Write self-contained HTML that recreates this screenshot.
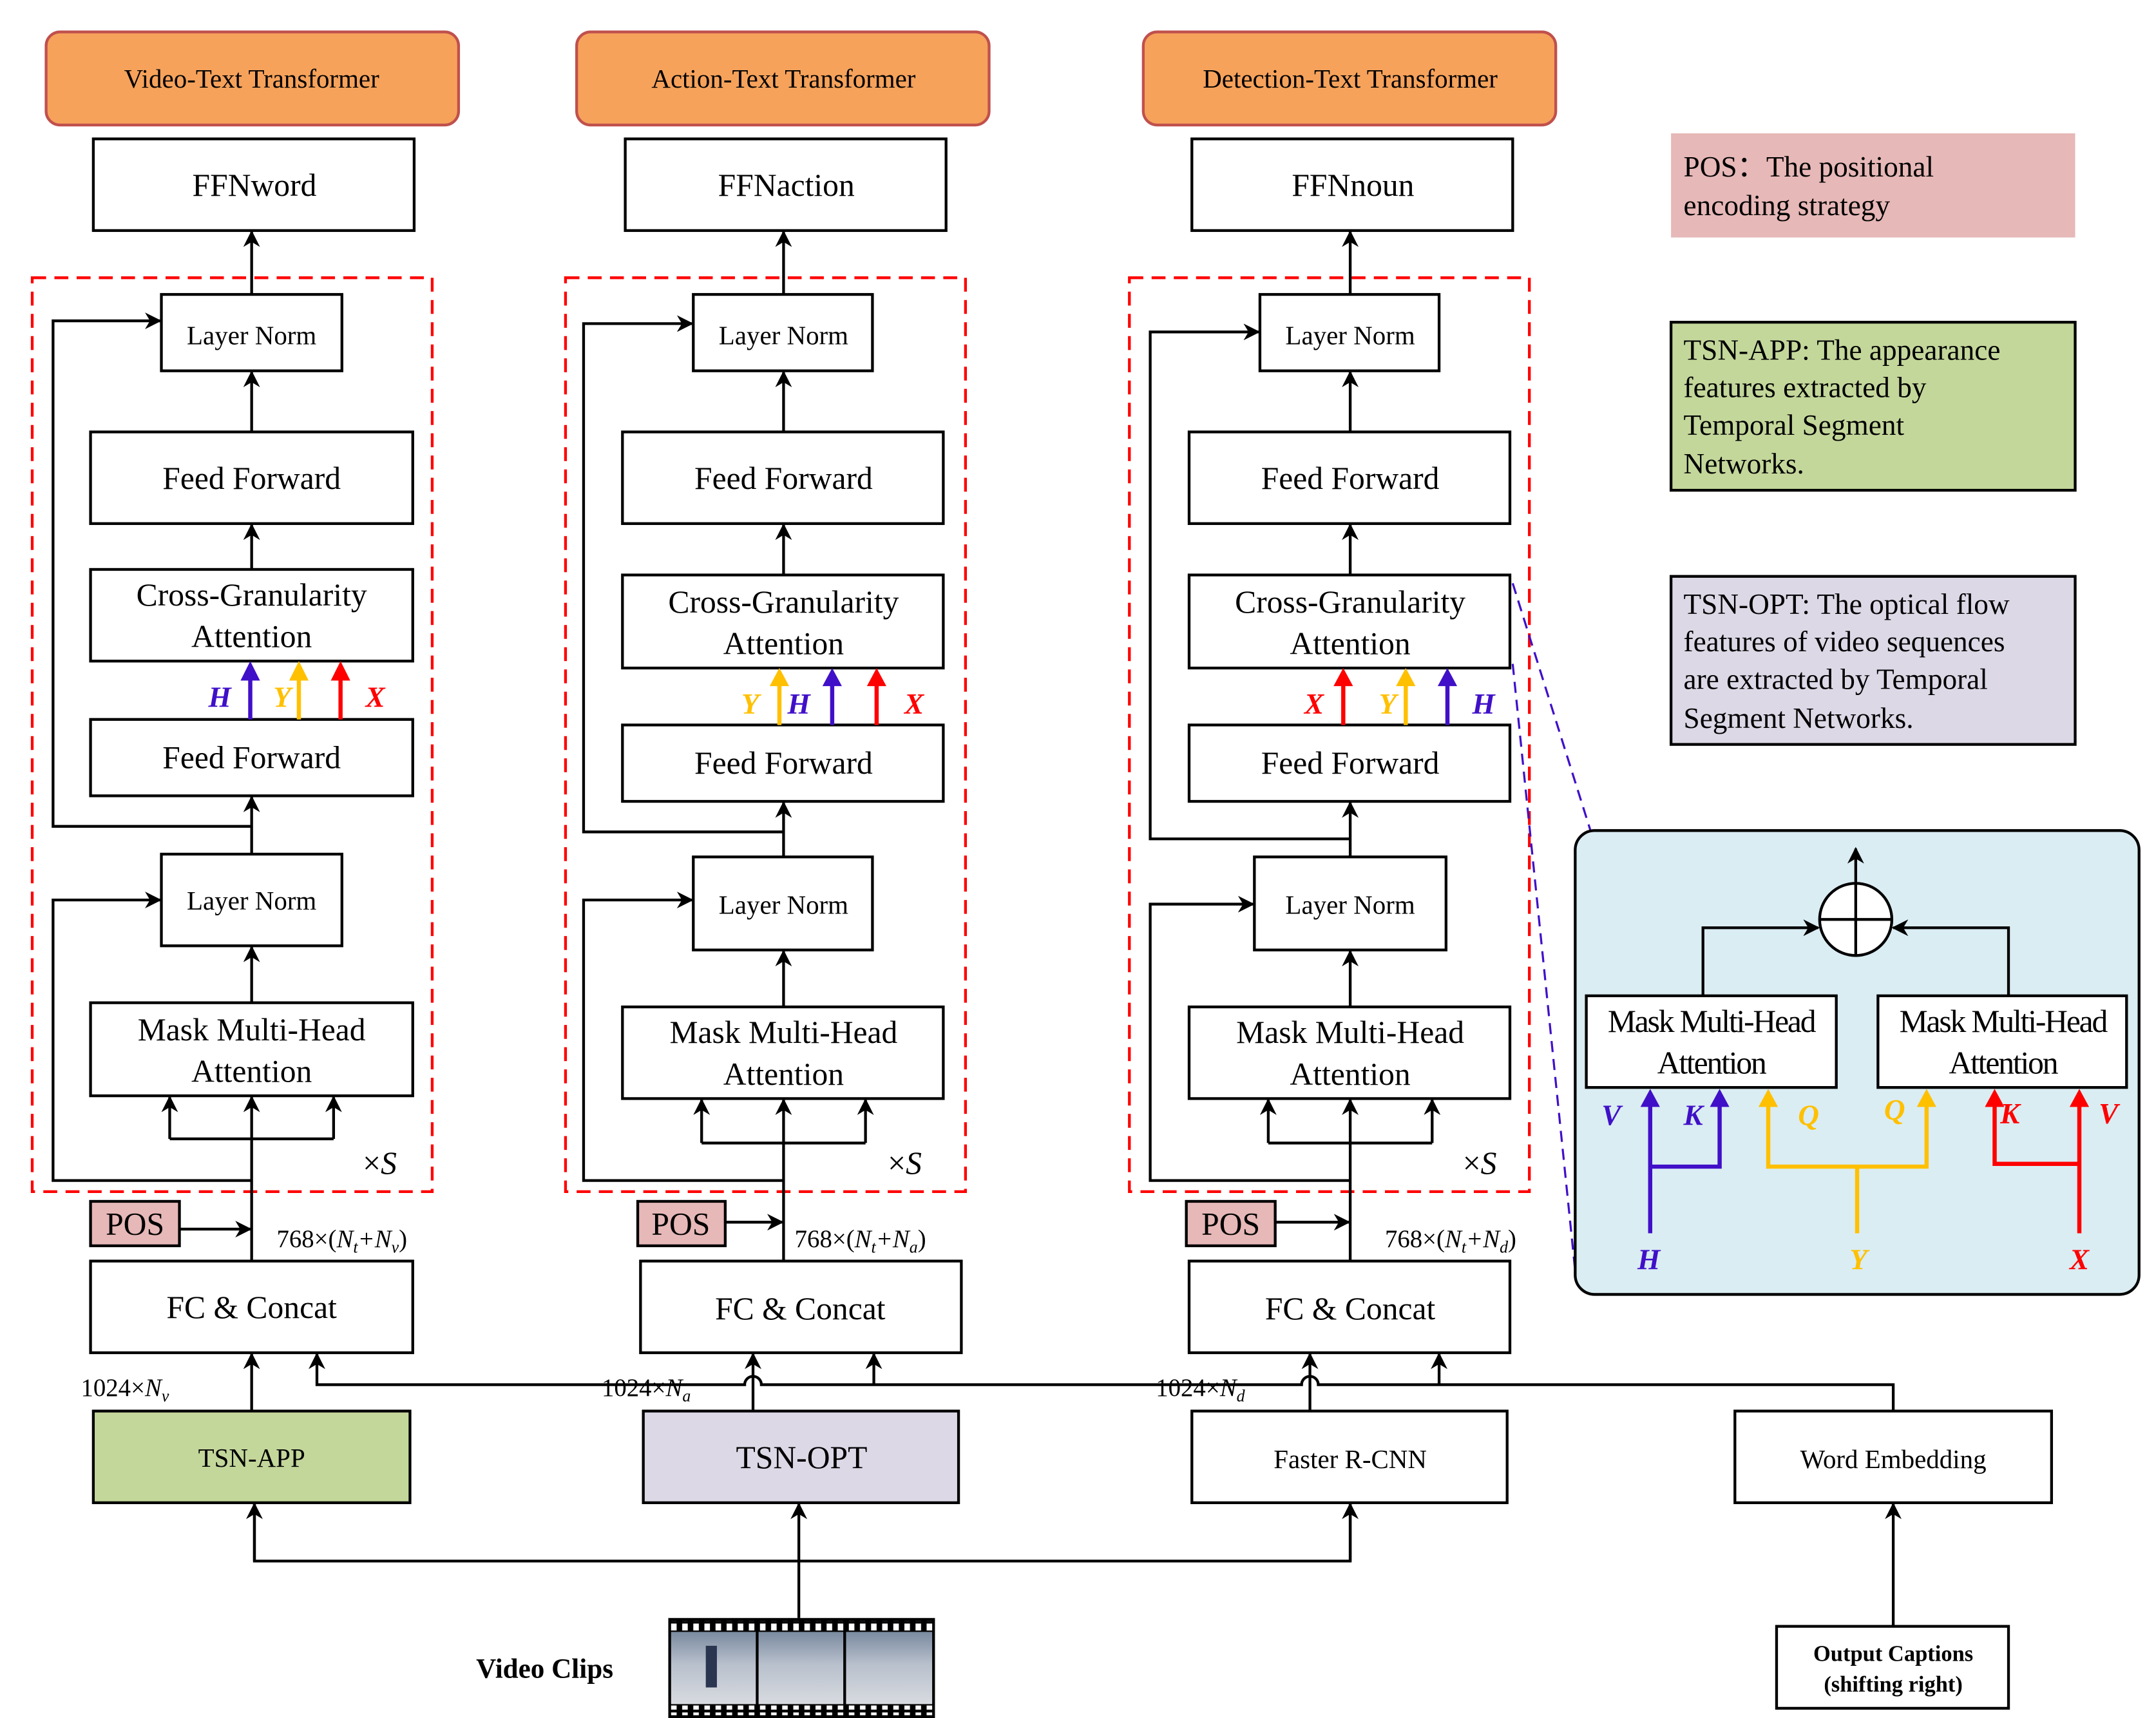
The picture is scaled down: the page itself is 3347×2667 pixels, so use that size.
<!DOCTYPE html>
<html><head><meta charset="utf-8"><style>html,body{margin:0;padding:0;background:#fff}svg{display:block}svg text{font-family:"Liberation Serif","DejaVu Serif",serif}</style></head>
<body>
<svg width="3347" height="2667" viewBox="0 0 1552 1237" xmlns="http://www.w3.org/2000/svg" style="font-family:'Liberation Serif',serif">
<defs>
<marker id="b" viewBox="0 0 10 10" refX="9" refY="5" markerWidth="12" markerHeight="12" orient="auto" markerUnits="userSpaceOnUse"><path d="M0,0 L10,5 L0,10 L3,5z" fill="#000"/></marker>
<pattern id="holes" x="481" y="0" width="8" height="8" patternUnits="userSpaceOnUse"><rect x="2" y="1" width="4" height="6" fill="#fff"/></pattern>
<linearGradient id="snow" x1="0" y1="0" x2="0" y2="1"><stop offset="0" stop-color="#7a8aa0"/><stop offset="0.45" stop-color="#b8c0cc"/><stop offset="1" stop-color="#d8dbe0"/></linearGradient>
</defs>
<g stroke="#000" stroke-width="2" fill="none">
<rect x="33" y="23" width="297" height="67" rx="10" fill="#f6a25b" stroke="#c0504d"/>
<rect x="415" y="23" width="297" height="67" rx="10" fill="#f6a25b" stroke="#c0504d"/>
<rect x="823" y="23" width="297" height="67" rx="10" fill="#f6a25b" stroke="#c0504d"/>
<rect x="67" y="100" width="231" height="66"/>
<rect x="450" y="100" width="231" height="66"/>
<rect x="858" y="100" width="231" height="66"/>
<rect x="23" y="200" width="288" height="658" stroke="#f00" stroke-dasharray="10,6"/>
<rect x="407" y="200" width="288" height="658" stroke="#f00" stroke-dasharray="10,6"/>
<rect x="813" y="200" width="288" height="658" stroke="#f00" stroke-dasharray="10,6"/>

<line x1="181" y1="212" x2="181" y2="167" marker-end="url(#b)"/>
<rect x="116" y="212" width="130" height="55"/>
<line x1="181" y1="311" x2="181" y2="268" marker-end="url(#b)"/>
<rect x="65" y="311" width="232" height="66"/>
<line x1="181" y1="410" x2="181" y2="378" marker-end="url(#b)"/>
<rect x="65" y="410" width="232" height="66"/>
<rect x="65" y="518" width="232" height="55"/>
<line x1="181" y1="615" x2="181" y2="574" marker-end="url(#b)"/>
<polyline points="181,595 38,595 38,231 115,231" marker-end="url(#b)"/>
<rect x="116" y="615" width="130" height="66"/>
<line x1="181" y1="722" x2="181" y2="682" marker-end="url(#b)"/>
<rect x="65" y="722" width="232" height="67"/>
<line x1="181" y1="908" x2="181" y2="790" marker-end="url(#b)"/>
<line x1="122" y1="820" x2="240" y2="820"/>
<line x1="122" y1="820" x2="122" y2="790" marker-end="url(#b)"/>
<line x1="240" y1="820" x2="240" y2="790" marker-end="url(#b)"/>
<polyline points="181,850 38,850 38,648 115,648" marker-end="url(#b)"/>
<rect x="65" y="865" width="64" height="32" fill="#e6b8b7"/>
<line x1="129" y1="885" x2="180" y2="885" marker-end="url(#b)"/>
<rect x="65" y="908" width="232" height="66"/>

<line x1="564" y1="212" x2="564" y2="167" marker-end="url(#b)"/>
<rect x="499" y="212" width="129" height="55"/>
<line x1="564" y1="311" x2="564" y2="268" marker-end="url(#b)"/>
<rect x="448" y="311" width="231" height="66"/>
<line x1="564" y1="414" x2="564" y2="378" marker-end="url(#b)"/>
<rect x="448" y="414" width="231" height="67"/>
<rect x="448" y="522" width="231" height="55"/>
<line x1="564" y1="617" x2="564" y2="578" marker-end="url(#b)"/>
<polyline points="564,599 420,599 420,233 498,233" marker-end="url(#b)"/>
<rect x="499" y="617" width="129" height="67"/>
<line x1="564" y1="725" x2="564" y2="685" marker-end="url(#b)"/>
<rect x="448" y="725" width="231" height="66"/>
<line x1="564" y1="908" x2="564" y2="792" marker-end="url(#b)"/>
<line x1="505" y1="823" x2="623" y2="823"/>
<line x1="505" y1="823" x2="505" y2="792" marker-end="url(#b)"/>
<line x1="623" y1="823" x2="623" y2="792" marker-end="url(#b)"/>
<polyline points="564,850 420,850 420,648 498,648" marker-end="url(#b)"/>
<rect x="459" y="865" width="63" height="32" fill="#e6b8b7"/>
<line x1="522" y1="880" x2="563" y2="880" marker-end="url(#b)"/>
<rect x="461" y="908" width="231" height="66"/>

<line x1="972" y1="212" x2="972" y2="167" marker-end="url(#b)"/>
<rect x="907" y="212" width="129" height="55"/>
<line x1="972" y1="311" x2="972" y2="268" marker-end="url(#b)"/>
<rect x="856" y="311" width="231" height="66"/>
<line x1="972" y1="414" x2="972" y2="378" marker-end="url(#b)"/>
<rect x="856" y="414" width="231" height="67"/>
<rect x="856" y="522" width="231" height="55"/>
<line x1="972" y1="617" x2="972" y2="578" marker-end="url(#b)"/>
<polyline points="972,604 828,604 828,239 906,239" marker-end="url(#b)"/>
<rect x="903" y="617" width="138" height="67"/>
<line x1="972" y1="725" x2="972" y2="685" marker-end="url(#b)"/>
<rect x="856" y="725" width="231" height="66"/>
<line x1="972" y1="908" x2="972" y2="792" marker-end="url(#b)"/>
<line x1="913" y1="823" x2="1031" y2="823"/>
<line x1="913" y1="823" x2="913" y2="792" marker-end="url(#b)"/>
<line x1="1031" y1="823" x2="1031" y2="792" marker-end="url(#b)"/>
<polyline points="972,850 828,850 828,651 902,651" marker-end="url(#b)"/>
<rect x="854" y="865" width="64" height="32" fill="#e6b8b7"/>
<line x1="918" y1="880" x2="971" y2="880" marker-end="url(#b)"/>
<rect x="856" y="908" width="231" height="66"/>

<rect x="67" y="1016" width="228" height="66" fill="#c4d79b"/>
<rect x="463" y="1016" width="227" height="66" fill="#dcd8e6"/>
<rect x="858" y="1016" width="227" height="66"/>
<rect x="1249" y="1016" width="228" height="66"/>
<rect x="1279" y="1171" width="167" height="59"/>
<line x1="181" y1="1016" x2="181" y2="975" marker-end="url(#b)"/>
<line x1="542" y1="1016" x2="542" y2="975" marker-end="url(#b)"/>
<line x1="943" y1="1016" x2="943" y2="975" marker-end="url(#b)"/>
<path d="M1363,1016 L1363,997 L949,997 A6,6 0 0 0 937,997 L548,997 A6,6 0 0 0 536,997 L228,997 L228,975" marker-end="url(#b)"/>
<line x1="629" y1="997" x2="629" y2="975" marker-end="url(#b)"/>
<line x1="1036" y1="997" x2="1036" y2="975" marker-end="url(#b)"/>
<line x1="1363" y1="1171" x2="1363" y2="1083" marker-end="url(#b)"/>
<line x1="575" y1="1165" x2="575" y2="1083" marker-end="url(#b)"/>
<polyline points="183,1083 183,1124 972,1124 972,1083" fill="none"/>
<line x1="183" y1="1124" x2="183" y2="1083" marker-end="url(#b)"/>
<line x1="972" y1="1124" x2="972" y2="1083" marker-end="url(#b)"/>

<rect x="1203" y="96" width="291" height="75" fill="#e6b8b7" stroke="none"/>
<rect x="1203" y="232" width="291" height="121" fill="#c4d79b"/>
<rect x="1203" y="415" width="291" height="121" fill="#dcd8e6"/>

<line x1="1089" y1="420" x2="1145" y2="598" stroke="#4010c8" stroke-width="1.5" stroke-dasharray="8,5"/>
<line x1="1089" y1="478" x2="1134" y2="915" stroke="#4010c8" stroke-width="1.5" stroke-dasharray="8,5"/>

<rect x="1134" y="598" width="406" height="334" rx="14" fill="#daedf3"/>
<line x1="1336" y1="636" x2="1336" y2="611" marker-end="url(#b)"/>
<ellipse cx="1336" cy="662" rx="26" ry="26" fill="#fff"/>
<line x1="1336" y1="636" x2="1336" y2="688"/>
<line x1="1310" y1="662" x2="1362" y2="662"/>
<polyline points="1226,717 1226,668 1309,668" marker-end="url(#b)"/>
<polyline points="1446,717 1446,668 1363,668" marker-end="url(#b)"/>
<rect x="1142" y="717" width="180" height="66" fill="#fff"/>
<rect x="1352" y="717" width="179" height="66" fill="#fff"/>
</g>

<g stroke-width="3" fill="none">
<g stroke="#4010c8"><line x1="180" y1="518" x2="180" y2="488"/><line x1="599" y1="522" x2="599" y2="492"/><line x1="1042" y1="522" x2="1042" y2="492"/>
<path d="M1188,888 V795 M1188,840 H1238 V795"/></g>
<g stroke="#ffc000"><line x1="215" y1="518" x2="215" y2="488"/><line x1="561" y1="522" x2="561" y2="492"/><line x1="1012" y1="522" x2="1012" y2="492"/>
<path d="M1337,888 V840 M1273,795 V840 H1387 V795"/></g>
<g stroke="#f00"><line x1="245" y1="518" x2="245" y2="488"/><line x1="631" y1="522" x2="631" y2="492"/><line x1="967" y1="522" x2="967" y2="492"/>
<path d="M1497,888 V795 M1497,838 H1436 V795"/></g>
</g>
<g>
<g fill="#4010c8"><path d="M173,490 L180,476 L187,490z"/><path d="M592,494 L599,481 L606,494z"/><path d="M1035,494 L1042,481 L1049,494z"/><path d="M1181,797 L1188,784 L1195,797z"/><path d="M1231,797 L1238,784 L1245,797z"/></g>
<g fill="#ffc000"><path d="M208,490 L215,476 L222,490z"/><path d="M554,494 L561,481 L568,494z"/><path d="M1005,494 L1012,481 L1019,494z"/><path d="M1266,797 L1273,784 L1280,797z"/><path d="M1380,797 L1387,784 L1394,797z"/></g>
<g fill="#f00"><path d="M238,490 L245,476 L252,490z"/><path d="M624,494 L631,481 L638,494z"/><path d="M960,494 L967,481 L974,494z"/><path d="M1429,797 L1436,784 L1443,797z"/><path d="M1490,797 L1497,784 L1504,797z"/></g>
</g>

<rect x="481" y="1165" width="192" height="72" fill="#000"/>
<rect x="482" y="1167" width="190" height="7" fill="url(#holes)"/>
<rect x="482" y="1228" width="190" height="7" fill="url(#holes)"/>
<rect x="483" y="1175" width="61" height="52" fill="url(#snow)"/>
<rect x="546" y="1175" width="61" height="52" fill="url(#snow)"/>
<rect x="609" y="1175" width="62" height="52" fill="url(#snow)"/>
<rect x="508" y="1185" width="8" height="30" fill="#2a3550"/>

<g font-size="19" text-anchor="middle" fill="#000">
<text x="181" y="63">Video-Text Transformer</text>
<text x="564" y="63">Action-Text Transformer</text>
<text x="972" y="63">Detection-Text Transformer</text>
</g>
<g font-size="23" text-anchor="middle" fill="#000">
<text x="183" y="141">FFNword</text><text x="566" y="141">FFNaction</text><text x="974" y="141">FFNnoun</text>
<text x="181" y="352">Feed Forward</text><text x="564" y="352">Feed Forward</text><text x="972" y="352">Feed Forward</text>
<text x="181" y="436">Cross-Granularity</text><text x="181" y="466">Attention</text>
<text x="564" y="441">Cross-Granularity</text><text x="564" y="471">Attention</text>
<text x="972" y="441">Cross-Granularity</text><text x="972" y="471">Attention</text>
<text x="181" y="553">Feed Forward</text><text x="564" y="557">Feed Forward</text><text x="972" y="557">Feed Forward</text>
<text x="181" y="749">Mask Multi-Head</text><text x="181" y="779">Attention</text>
<text x="564" y="751">Mask Multi-Head</text><text x="564" y="781">Attention</text>
<text x="972" y="751">Mask Multi-Head</text><text x="972" y="781">Attention</text>
<text x="181" y="949">FC &amp; Concat</text><text x="576" y="950">FC &amp; Concat</text><text x="972" y="950">FC &amp; Concat</text>
<text x="97" y="889">POS</text><text x="490" y="889">POS</text><text x="886" y="889">POS</text>
<text x="577" y="1057">TSN-OPT</text>
</g>
<g font-size="19" text-anchor="middle" fill="#000">
<text x="181" y="248">Layer Norm</text><text x="564" y="248">Layer Norm</text><text x="972" y="248">Layer Norm</text>
<text x="181" y="655">Layer Norm</text><text x="564" y="658">Layer Norm</text><text x="972" y="658">Layer Norm</text>
<text x="181" y="1056">TSN-APP</text><text x="972" y="1057">Faster R-CNN</text><text x="1363" y="1057">Word Embedding</text>
</g>
<g font-size="23" fill="#000">
<text x="261" y="845">×<tspan font-style="italic">S</tspan></text>
<text x="639" y="845">×<tspan font-style="italic">S</tspan></text>
<text x="1053" y="845">×<tspan font-style="italic">S</tspan></text>
</g>
<g font-size="18" fill="#000">
<text x="199" y="898">768×(<tspan font-style="italic">N<tspan font-size="12" dy="4">t</tspan><tspan dy="-4">+N</tspan><tspan font-size="12" dy="4">v</tspan></tspan><tspan dy="-4">)</tspan></text>
<text x="572" y="898">768×(<tspan font-style="italic">N<tspan font-size="12" dy="4">t</tspan><tspan dy="-4">+N</tspan><tspan font-size="12" dy="4">a</tspan></tspan><tspan dy="-4">)</tspan></text>
<text x="997" y="898">768×(<tspan font-style="italic">N<tspan font-size="12" dy="4">t</tspan><tspan dy="-4">+N</tspan><tspan font-size="12" dy="4">d</tspan></tspan><tspan dy="-4">)</tspan></text>
<text x="58" y="1005">1024×<tspan font-style="italic">N<tspan font-size="12" dy="4">v</tspan></tspan></text>
<text x="433" y="1005">1024×<tspan font-style="italic">N<tspan font-size="12" dy="4">a</tspan></tspan></text>
<text x="832" y="1005">1024×<tspan font-style="italic">N<tspan font-size="12" dy="4">d</tspan></tspan></text>
</g>
<g font-weight="bold" fill="#000" text-anchor="middle">
<text x="392" y="1208" font-size="20">Video Clips</text>
<text x="1363" y="1196" font-size="16">Output Captions</text>
<text x="1363" y="1218" font-size="16">(shifting right)</text>
</g>
<g font-size="21" fill="#000">
<text x="1212" y="127">POS：The positional</text><text x="1212" y="155">encoding strategy</text>
<text x="1212" y="259">TSN-APP: The appearance</text><text x="1212" y="286">features extracted by</text><text x="1212" y="313">Temporal Segment</text><text x="1212" y="341">Networks.</text>
<text x="1212" y="442">TSN-OPT: The optical flow</text><text x="1212" y="469">features of video sequences</text><text x="1212" y="496">are extracted by Temporal</text><text x="1212" y="524">Segment Networks.</text>
</g>
<g font-size="23" fill="#000" text-anchor="middle" letter-spacing="-1">
<text x="1232" y="743">Mask Multi-Head</text><text x="1232" y="773">Attention</text>
<text x="1442" y="743">Mask Multi-Head</text><text x="1442" y="773">Attention</text>
</g>
<g font-size="21" font-style="italic" font-weight="bold" text-anchor="middle">
<text x="158" y="509" fill="#4010c8">H</text><text x="203" y="509" fill="#ffc000">Y</text><text x="270" y="509" fill="#f00">X</text>
<text x="540" y="514" fill="#ffc000">Y</text><text x="575" y="514" fill="#4010c8">H</text><text x="658" y="514" fill="#f00">X</text>
<text x="946" y="514" fill="#f00">X</text><text x="999" y="514" fill="#ffc000">Y</text><text x="1068" y="514" fill="#4010c8">H</text>
<text x="1160" y="810" fill="#4010c8">V</text><text x="1219" y="810" fill="#4010c8">K</text>
<text x="1302" y="810" fill="#ffc000">Q</text><text x="1364" y="806" fill="#ffc000">Q</text>
<text x="1447" y="809" fill="#f00">K</text><text x="1518" y="809" fill="#f00">V</text>
<text x="1187" y="914" fill="#4010c8">H</text><text x="1338" y="914" fill="#ffc000">Y</text><text x="1497" y="914" fill="#f00">X</text>
</g>
</svg>
</body></html>
